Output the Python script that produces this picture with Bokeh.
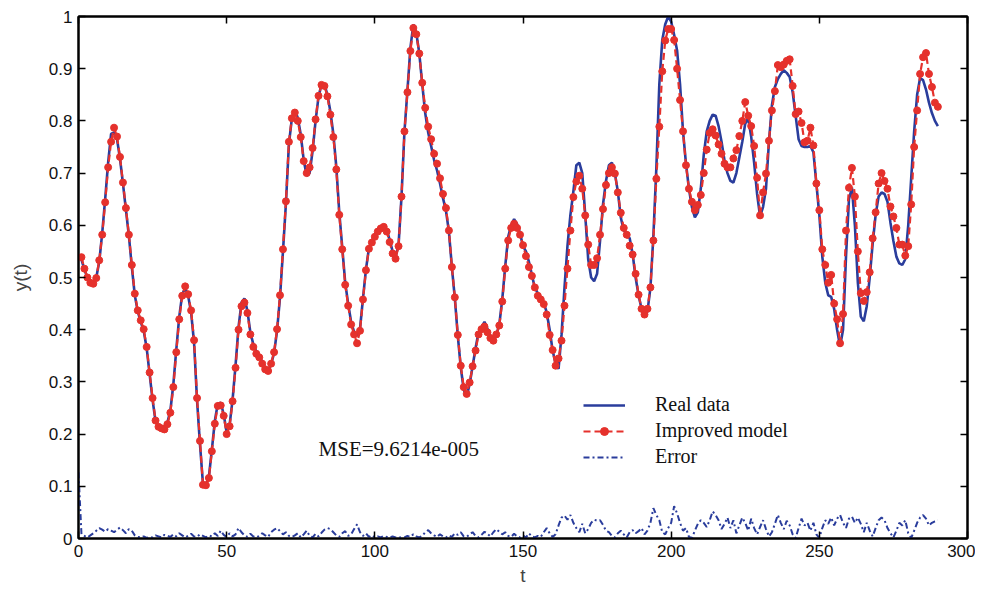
from bokeh.plotting import figure
from bokeh.models import LinearAxis, FixedTicker, Label, Range1d, ColumnDataSource
from bokeh.embed import file_html
from bokeh.resources import INLINE

# ---------------- data ----------------
t = list(range(1, 291))
t_err = list(range(0, 291))

real_data = [
    0.534, 0.515, 0.500, 0.491, 0.489, 0.500, 0.530, 0.585, 0.650, 0.720,
    0.775, 0.778, 0.765, 0.728, 0.680, 0.630, 0.580, 0.520, 0.466, 0.435,
    0.415, 0.398, 0.365, 0.315, 0.265, 0.225, 0.215, 0.212, 0.212, 0.222,
    0.245, 0.295, 0.362, 0.425, 0.468, 0.480, 0.465, 0.433, 0.375, 0.265,
    0.180, 0.105, 0.104, 0.118, 0.170, 0.225, 0.258, 0.260, 0.238, 0.203,
    0.218, 0.266, 0.332, 0.405, 0.452, 0.460, 0.436, 0.395, 0.372, 0.358,
    0.350, 0.338, 0.326, 0.322, 0.334, 0.355, 0.398, 0.462, 0.550, 0.642,
    0.755, 0.805, 0.820, 0.806, 0.774, 0.725, 0.695, 0.700, 0.742, 0.800,
    0.846, 0.870, 0.870, 0.850, 0.818, 0.775, 0.712, 0.625, 0.558, 0.490,
    0.450, 0.415, 0.396, 0.388, 0.402, 0.460, 0.515, 0.556, 0.570, 0.582,
    0.592, 0.598, 0.600, 0.592, 0.572, 0.550, 0.540, 0.562, 0.655, 0.780,
    0.858, 0.940, 0.985, 0.968, 0.930, 0.870, 0.815, 0.778, 0.752, 0.725,
    0.705, 0.680, 0.652, 0.628, 0.588, 0.520, 0.460, 0.388, 0.328, 0.285,
    0.272, 0.296, 0.330, 0.365, 0.395, 0.405, 0.415, 0.402, 0.388, 0.380,
    0.390, 0.410, 0.458, 0.522, 0.578, 0.600, 0.612, 0.602, 0.585, 0.560,
    0.550, 0.530, 0.505, 0.480, 0.470, 0.460, 0.452, 0.433, 0.400, 0.360,
    0.335, 0.325, 0.390, 0.480, 0.560, 0.620, 0.665, 0.715, 0.720, 0.700,
    0.620, 0.535, 0.500, 0.493, 0.507, 0.570, 0.640, 0.685, 0.715, 0.720,
    0.700, 0.665, 0.615, 0.590, 0.585, 0.575, 0.545, 0.500, 0.466, 0.440,
    0.425, 0.435, 0.480, 0.580, 0.710, 0.870, 0.955, 0.985, 1.000, 0.990,
    0.965, 0.935, 0.870, 0.780, 0.718, 0.670, 0.635, 0.615, 0.625, 0.670,
    0.735, 0.780, 0.800, 0.812, 0.810, 0.790, 0.760, 0.724, 0.700, 0.685,
    0.682, 0.700, 0.730, 0.760, 0.795, 0.805, 0.770, 0.720, 0.660, 0.617,
    0.635, 0.670, 0.760, 0.830, 0.865, 0.880, 0.890, 0.897, 0.892, 0.884,
    0.855, 0.810, 0.765, 0.752, 0.750, 0.750, 0.752, 0.740, 0.680, 0.620,
    0.540, 0.490, 0.466, 0.463, 0.440, 0.400, 0.368, 0.400, 0.540, 0.650,
    0.672, 0.600, 0.490, 0.425, 0.416, 0.445, 0.500, 0.565, 0.620, 0.655,
    0.663, 0.660, 0.645, 0.605, 0.570, 0.540, 0.527, 0.524, 0.535, 0.600,
    0.690, 0.780, 0.850, 0.882, 0.878, 0.860, 0.835, 0.815, 0.800, 0.790,
]

improved_model = [
    0.539, 0.517, 0.500, 0.490, 0.488, 0.499, 0.533, 0.582, 0.644, 0.711,
    0.760, 0.787, 0.770, 0.731, 0.682, 0.633, 0.582, 0.524, 0.469, 0.437,
    0.418, 0.401, 0.367, 0.318, 0.269, 0.226, 0.214, 0.211, 0.209, 0.219,
    0.241, 0.290, 0.357, 0.420, 0.465, 0.483, 0.468, 0.437, 0.380, 0.269,
    0.187, 0.103, 0.102, 0.116, 0.167, 0.220, 0.254, 0.255, 0.235, 0.200,
    0.215, 0.263, 0.327, 0.400, 0.445, 0.452, 0.432, 0.391, 0.367, 0.354,
    0.347, 0.335, 0.324, 0.321, 0.335, 0.357, 0.401, 0.466, 0.554, 0.646,
    0.760, 0.805, 0.816, 0.800, 0.769, 0.723, 0.700, 0.711, 0.748, 0.803,
    0.848, 0.869, 0.867, 0.847, 0.812, 0.769, 0.707, 0.620, 0.554, 0.486,
    0.446, 0.410, 0.391, 0.374, 0.398, 0.458, 0.514, 0.555, 0.567, 0.578,
    0.588, 0.594, 0.597, 0.588, 0.568, 0.546, 0.536, 0.560, 0.655, 0.780,
    0.855, 0.934, 0.978, 0.966, 0.929, 0.873, 0.825, 0.789, 0.765, 0.737,
    0.718, 0.690, 0.660, 0.633, 0.590, 0.520, 0.462, 0.390, 0.331, 0.290,
    0.277, 0.299, 0.330, 0.360, 0.391, 0.401, 0.406, 0.395, 0.384, 0.379,
    0.391, 0.408, 0.454, 0.517, 0.571, 0.595, 0.603, 0.595, 0.582, 0.562,
    0.541, 0.520, 0.503, 0.481, 0.465, 0.458, 0.449, 0.429, 0.390, 0.361,
    0.331, 0.345, 0.379, 0.446, 0.517, 0.590, 0.654, 0.684, 0.695, 0.670,
    0.619, 0.563, 0.524, 0.524, 0.537, 0.582, 0.631, 0.677, 0.700, 0.711,
    0.699, 0.663, 0.624, 0.595, 0.582, 0.561, 0.544, 0.507, 0.467, 0.440,
    0.429, 0.440, 0.481, 0.571, 0.689, 0.789, 0.895, 0.954, 0.976, 0.976,
    0.955, 0.900, 0.840, 0.780, 0.715, 0.670, 0.645, 0.629, 0.639, 0.658,
    0.700, 0.745, 0.777, 0.784, 0.772, 0.755, 0.737, 0.718, 0.711, 0.711,
    0.728, 0.744, 0.771, 0.800, 0.836, 0.810, 0.790, 0.752, 0.691, 0.619,
    0.663, 0.699, 0.762, 0.820, 0.857, 0.907, 0.903, 0.908, 0.915, 0.918,
    0.867, 0.813, 0.818, 0.796, 0.759, 0.762, 0.787, 0.753, 0.680, 0.629,
    0.554, 0.524, 0.490, 0.505, 0.450, 0.420, 0.374, 0.430, 0.590, 0.672,
    0.710, 0.655, 0.550, 0.470, 0.455, 0.472, 0.510, 0.575, 0.625, 0.680,
    0.700, 0.685, 0.670, 0.636, 0.617, 0.595, 0.563, 0.563, 0.542, 0.560,
    0.640, 0.750, 0.820, 0.890, 0.922, 0.930, 0.890, 0.865, 0.835, 0.827,
]

error = [
    0.127,
    0.008, 0.005, 0.002, 0.006, 0.010, 0.015, 0.020, 0.017, 0.013, 0.018,
    0.015, 0.012, 0.017, 0.021, 0.016, 0.010, 0.018, 0.015, 0.006, 0.003,
    0.002, 0.004, 0.001, 0.003, 0.002, 0.006, 0.004, 0.002, 0.007, 0.005,
    0.003, 0.008, 0.004, 0.010, 0.006, 0.002, 0.005, 0.009, 0.004, 0.003,
    0.008, 0.005, 0.002, 0.006, 0.004, 0.010, 0.005, 0.015, 0.007, 0.003,
    0.010, 0.004, 0.008, 0.020, 0.012, 0.006, 0.003, 0.009, 0.004, 0.002,
    0.005, 0.010, 0.006, 0.003, 0.012, 0.017, 0.020, 0.014, 0.008, 0.012,
    0.005, 0.003, 0.006, 0.010, 0.002, 0.008, 0.015, 0.005, 0.002, 0.009,
    0.004, 0.011, 0.017, 0.020, 0.018, 0.012, 0.006, 0.003, 0.010, 0.014,
    0.005, 0.008, 0.018, 0.027, 0.012, 0.005, 0.010, 0.003, 0.006, 0.002,
    0.004, 0.002, 0.005, 0.003, 0.002, 0.004, 0.002, 0.001, 0.003, 0.002,
    0.005, 0.003, 0.008, 0.004, 0.002, 0.005, 0.012, 0.016, 0.010, 0.006,
    0.003, 0.008, 0.004, 0.002, 0.006, 0.003, 0.010, 0.007, 0.012, 0.004,
    0.003, 0.008, 0.012, 0.005, 0.002, 0.007, 0.013, 0.009, 0.004, 0.012,
    0.018, 0.013, 0.008, 0.012, 0.005, 0.003, 0.009, 0.004, 0.002, 0.006,
    0.002, 0.010, 0.004, 0.002, 0.005, 0.003, 0.012, 0.020, 0.010, 0.003,
    0.008, 0.025, 0.040, 0.044, 0.036, 0.045, 0.030, 0.020, 0.012, 0.028,
    0.010, 0.018, 0.030, 0.036, 0.034, 0.035, 0.026, 0.015, 0.012, 0.005,
    0.002, 0.010, 0.015, 0.008, 0.002, 0.012, 0.016, 0.010, 0.014, 0.020,
    0.008, 0.015, 0.030, 0.058, 0.045, 0.035, 0.012, 0.008, 0.020, 0.030,
    0.062, 0.048, 0.030, 0.015, 0.020, 0.003, 0.001, 0.015, 0.028, 0.035,
    0.030, 0.022, 0.035, 0.052, 0.045, 0.035, 0.018, 0.028, 0.040, 0.020,
    0.035, 0.010, 0.025, 0.040, 0.030, 0.015, 0.038, 0.020, 0.008, 0.022,
    0.035, 0.018, 0.004, 0.012, 0.028, 0.045, 0.030, 0.018, 0.034, 0.025,
    0.008, 0.001, 0.020, 0.038, 0.025, 0.030, 0.015, 0.030, 0.008, 0.001,
    0.020, 0.035, 0.028, 0.040, 0.025, 0.038, 0.045, 0.030, 0.020, 0.038,
    0.042, 0.030, 0.040, 0.028, 0.012, 0.030, 0.015, 0.004, 0.020, 0.035,
    0.040, 0.035, 0.020, 0.010, 0.002, 0.015, 0.030, 0.025, 0.035, 0.010,
    0.001, 0.015, 0.030, 0.040, 0.045, 0.038, 0.025, 0.030, 0.033, 0.035,
]

x_ticks = [0, 50, 100, 150, 200, 250, 300]
y_ticks = [0, 0.1, 0.2, 0.3, 0.4, 0.5, 0.6, 0.7, 0.8, 0.9, 1]
y_tick_labels = ["0", "0.1", "0.2", "0.3", "0.4", "0.5", "0.6", "0.7", "0.8", "0.9", "1"]
mse_text = "MSE=9.6214e-005"

BLUE = "#2a3d9c"
RED = "#e5312c"
SANS = "Liberation Sans"
SERIF = "Liberation Serif"

# ---------------- figure ----------------
p = figure(width=975, height=588, x_range=Range1d(0, 300), y_range=Range1d(0, 1),
           output_backend="svg", toolbar_location=None,
           min_border_left=78, min_border_right=8, min_border_top=16, min_border_bottom=47)
p.xgrid.visible = False
p.ygrid.visible = False
p.outline_line_color = "black"
p.outline_line_width = 2
p.background_fill_color = "white"
p.border_fill_color = "white"

def style_axis(ax, ticks, show_labels):
    ax.ticker = FixedTicker(ticks=ticks)
    ax.major_tick_in = 7
    ax.major_tick_out = 0
    ax.minor_tick_line_color = None
    ax.major_tick_line_width = 1.5
    ax.axis_line_width = 2
    ax.axis_line_color = "black"
    ax.major_label_text_font = SANS
    ax.major_label_text_font_size = "17px"
    ax.major_label_text_color = "#111111"
    if not show_labels:
        ax.major_label_overrides = {v: "" for v in ticks}
        ax.major_label_standoff = 0

xa = p.xaxis[0]
style_axis(xa, x_ticks, True)
xa.axis_label = "t"
xa.axis_label_text_font = SANS
xa.axis_label_text_font_size = "19px"
xa.axis_label_text_font_style = "normal"
xa.axis_label_standoff = 5
xa.major_label_standoff = 6

ya = p.yaxis[0]
style_axis(ya, y_ticks, True)
ya.major_label_overrides = {v: s for v, s in zip(y_ticks, y_tick_labels)}
ya.axis_label = "y(t)"
ya.axis_label_text_font = SANS
ya.axis_label_text_font_size = "19px"
ya.axis_label_text_font_style = "normal"
ya.axis_label_standoff = 15
ya.major_label_standoff = 6

top_ax = LinearAxis()
style_axis(top_ax, x_ticks, False)
p.add_layout(top_ax, "above")
right_ax = LinearAxis()
style_axis(right_ax, y_ticks, False)
p.add_layout(right_ax, "right")

src = ColumnDataSource(dict(t=t, real=real_data, model=improved_model))
src_err = ColumnDataSource(dict(t=t_err, err=error))

p.line("t", "real", source=src, line_color=BLUE, line_width=2.6, legend_label="Real data")
p.line("t", "model", source=src, line_color=RED, line_width=2.2, line_dash="7 4",
       legend_label="Improved model")
p.scatter("t", "model", source=src, marker="circle", size=7, fill_color=RED,
          line_color=RED, legend_label="Improved model")
p.line("t", "err", source=src_err, line_color=BLUE, line_width=2.0, line_dash="6 3 2 3",
       legend_label="Error")

lg = p.legend[0]
lg.location = (505, 70)
lg.border_line_color = None
lg.background_fill_alpha = 0
lg.label_text_font = SERIF
lg.label_text_font_size = "20px"
lg.label_text_color = "#111111"
lg.label_height = 20
lg.glyph_width = 42
lg.glyph_height = 20
lg.spacing = 3
lg.label_standoff = 30
lg.padding = 4

p.add_layout(Label(x=81, y=0.171, text=mse_text, text_font=SERIF, text_font_size="21px",
                   text_baseline="middle", text_color="#111111"))

open("out.html", "w").write(file_html(p, INLINE))
